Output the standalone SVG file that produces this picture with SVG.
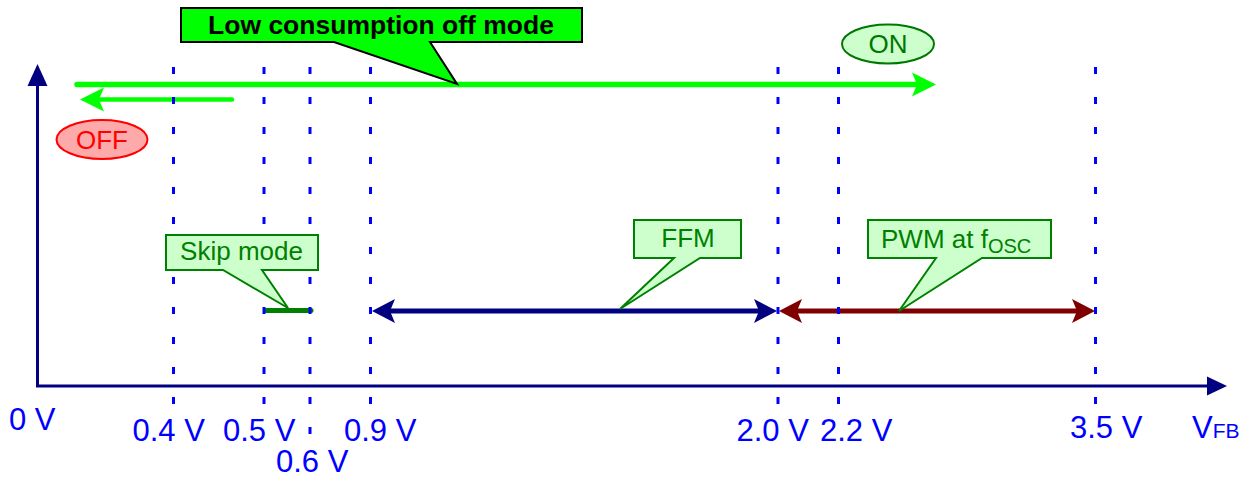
<svg xmlns="http://www.w3.org/2000/svg" width="1256" height="478" viewBox="0 0 1256 478">
<style>
  .axis{stroke:#000080;stroke-width:3;fill:none}
  .axhead{fill:#000080}
  .grid{stroke:#0000FF;stroke-width:3;stroke-dasharray:7 23}
  .lbl{font-family:"Liberation Sans",Arial,sans-serif;font-size:31px;fill:#0000FF}
  .callout{fill:#CCFFCC;stroke:#008000;stroke-width:2;stroke-linejoin:miter}
  .ctext{font-family:"Liberation Sans",Arial,sans-serif;font-size:26px;fill:#008000}
  .green{stroke:#00FF00;fill:none}
  .greenhead{fill:#00FF00}
</style>
<rect width="1256" height="478" fill="#FFFFFF"/>
<g id="axes">
  <polyline class="axis" points="37.5,85 37.5,386 1208,386"/>
  <polygon class="axhead" points="37.5,64 27.5,86 47.5,86"/>
  <polygon class="axhead" points="1227,386 1207,376.5 1207,395.5"/>
</g>
<g id="connectors">
  <line class="green" x1="77" y1="84.5" x2="918" y2="84.5" stroke-width="5.5" stroke-linecap="round"/>
  <polygon class="greenhead" points="936,84.5 912,72.5 917,84.5 912,96.5"/>
  <line class="green" x1="232" y1="99.5" x2="98" y2="99.5" stroke-width="4.5" stroke-linecap="round"/>
  <polygon class="greenhead" points="80,99.5 104,87.5 99,99.5 104,111.5"/>
  <line x1="266" y1="310.5" x2="311" y2="310.5" stroke="#008000" stroke-width="5" stroke-linecap="round"/>
  <line x1="390" y1="311" x2="760" y2="311" stroke="#000080" stroke-width="5"/>
  <polygon fill="#000080" points="372,311 395,299 390,311 395,323"/>
  <polygon fill="#000080" points="777,311 754,299 759,311 754,323"/>
  <line x1="797" y1="311" x2="1077" y2="311" stroke="#800000" stroke-width="5"/>
  <polygon fill="#800000" points="779,311 802,299 797,311 802,323"/>
  <polygon fill="#800000" points="1095,311 1072,299 1077,311 1072,323"/>
</g>
<g id="gridlines">
  <line class="grid" x1="173.5" y1="67" x2="173.5" y2="405"/>
  <line class="grid" x1="264" y1="67" x2="264" y2="405"/>
  <line class="grid" x1="310" y1="67" x2="310" y2="435"/>
  <line class="grid" x1="370.5" y1="67" x2="370.5" y2="405"/>
  <line class="grid" x1="778" y1="67" x2="778" y2="405"/>
  <line class="grid" x1="838.5" y1="67" x2="838.5" y2="405"/>
  <line class="grid" x1="1095.5" y1="67" x2="1095.5" y2="405"/>
</g>
<g id="low-consumption">
  <path d="M181,8 H582 V42 H430 L457,84 L334,42 H181 Z" fill="#00FF00" stroke="#000000" stroke-width="2"/>
  <text x="381" y="34" text-anchor="middle" font-family="Liberation Sans,Arial,sans-serif" font-size="26.5" font-weight="bold" fill="#000000">Low consumption off mode</text>
</g>
<g id="on">
  <ellipse cx="888" cy="44" rx="46" ry="19.5" fill="#CCFFCC" stroke="#007700" stroke-width="2"/>
  <text x="888" y="52.5" text-anchor="middle" font-family="Liberation Sans,Arial,sans-serif" font-size="26" fill="#007700">ON</text>
</g>
<g id="off">
  <ellipse cx="102" cy="139.5" rx="45.5" ry="19.5" fill="#FFAAAA" stroke="#FF0000" stroke-width="2"/>
  <text x="102" y="148.5" text-anchor="middle" font-family="Liberation Sans,Arial,sans-serif" font-size="26" fill="#FF0000">OFF</text>
</g>
<g id="skip-mode">
  <path class="callout" d="M166,235 H318 V270 H262 L288,308 L223,270 H166 Z"/>
  <text class="ctext" x="241.5" y="260" text-anchor="middle">Skip mode</text>
</g>
<g id="ffm">
  <path class="callout" d="M634,220 H741 V258 H700 L620,309 L674,258 H634 Z"/>
  <text class="ctext" x="688" y="247" text-anchor="middle">FFM</text>
</g>
<g id="pwm">
  <path class="callout" d="M868,220 H1051 V258 H982 L899,311 L936,258 H868 Z"/>
  <text class="ctext" x="881" y="247.5">PWM at f<tspan font-size="20" dy="5">OSC</tspan></text>
</g>
<g id="labels">
  <text class="lbl" x="9" y="430">0 V</text>
  <text class="lbl" x="132.5" y="441">0.4 V</text>
  <text class="lbl" x="223" y="441">0.5 V</text>
  <text class="lbl" x="276" y="472">0.6 V</text>
  <text class="lbl" x="344" y="441">0.9 V</text>
  <text class="lbl" x="736.5" y="441">2.0 V</text>
  <text class="lbl" x="820" y="441">2.2 V</text>
  <text class="lbl" x="1070" y="438">3.5 V</text>
  <text class="lbl" x="1192" y="438">V<tspan font-size="21">FB</tspan></text>
</g>
</svg>
